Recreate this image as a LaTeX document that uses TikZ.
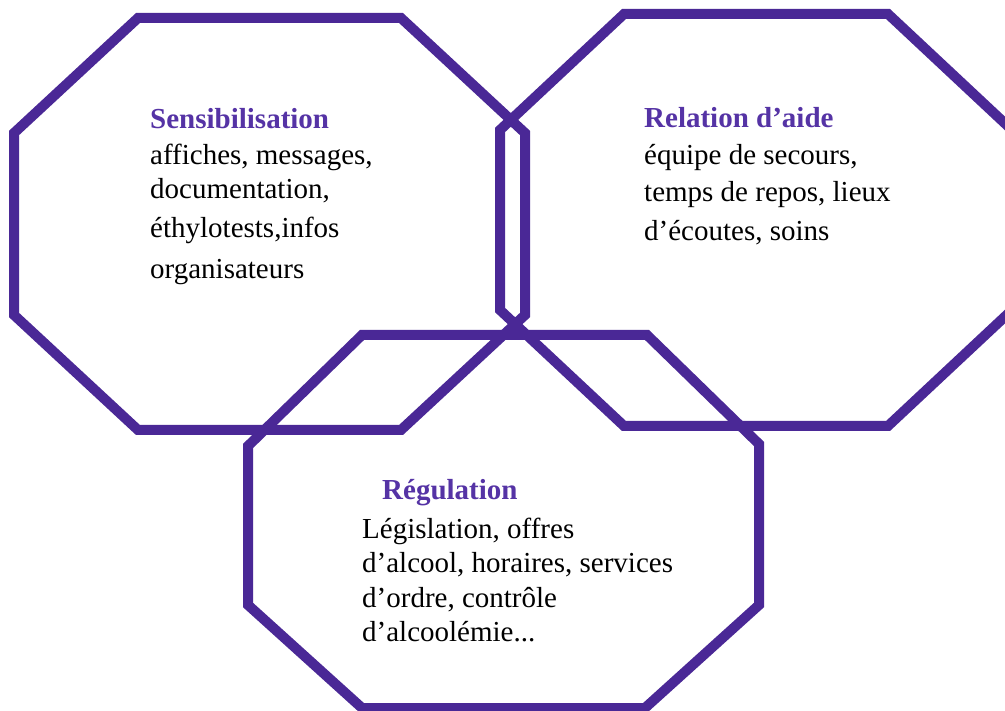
\documentclass[tikz,border=0pt]{standalone}
\usepackage{fontspec}
\setmainfont{Liberation Serif}
\definecolor{octline}{HTML}{4A2896}
\definecolor{headcol}{HTML}{5533A5}
\begin{document}
\begin{tikzpicture}[x=1pt,y=-1pt,
  oct/.style={draw=octline,line width=10pt,line join=miter},
  head/.style={anchor=base west,inner sep=0pt,font=\fontsize{29}{34}\selectfont\bfseries,text=headcol},
  body/.style={anchor=base west,inner sep=0pt,font=\fontsize{29}{34}\selectfont,text=black}]
\useasboundingbox (0,0) rectangle (1005,711);
\clip (0,0) rectangle (1005,711);
\fill[white] (0,0) rectangle (1005,711);

% left octagon
\draw[oct] (138,18) -- (401,18) -- (525,133) -- (525,315) -- (401,430) -- (138,430) -- (14,315) -- (14,133) -- cycle;
% right octagon
\draw[oct] (624,14) -- (888,14) -- (1012,130) -- (1012,310) -- (888,426) -- (624,426) -- (500,310) -- (500,130) -- cycle;
% bottom octagon
\draw[oct] (362,335) -- (647,335) -- (759,444) -- (759,605) -- (645,708) -- (362,708) -- (248,605) -- (248,446) -- cycle;

% left text
\node[head] (s0) at (150,129) {Sensibilisation};
\node[body] (s1) at (150,165) {affiches, messages,};
\node[body] (s2) at (150,199) {documentation,};
\node[body] (s3) at (150,238) {éthylotests,infos};
\node[body] (s4) at (150,279) {organisateurs};

% right text
\node[head] (r0) at (644,128) {Relation d’aide};
\node[body] (r1) at (644,165) {équipe de secours,};
\node[body] (r2) at (644,202) {temps de repos, lieux};
\node[body] (r3) at (644,241) {d’écoutes, soins};

% bottom text
\node[head] (g0) at (382,500) {Régulation};
\node[body] (g1) at (362,538) {Législation, offres};
\node[body] (g2) at (362,572) {d’alcool, horaires, services};
\node[body] (g3) at (362,607) {d’ordre, contrôle};
\node[body] (g4) at (362,641) {d’alcoolémie...};
\end{tikzpicture}
\end{document}
